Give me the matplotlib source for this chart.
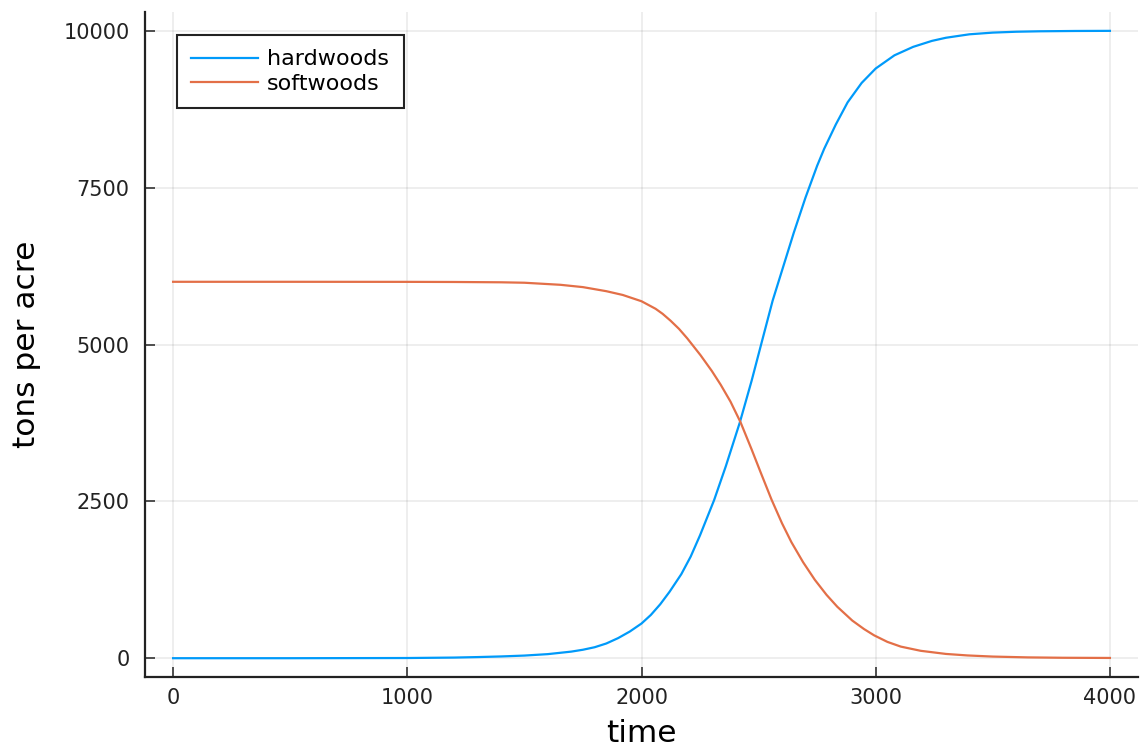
import matplotlib.pyplot as plt

# biomass over time (tons per acre)
hard_t = [0, 500, 1000, 1200, 1300, 1400, 1500, 1600, 1700, 1750, 1800, 1850, 1900,
          1950, 2000, 2040, 2080, 2120, 2170, 2210, 2250, 2310, 2360, 2420, 2470,
          2510, 2560, 2600, 2650, 2700, 2750, 2780, 2830, 2880, 2940, 3000, 3080,
          3160, 3240, 3300, 3400, 3500, 3600, 3700, 3850, 4000]
hardwoods = [0, 0, 3, 10, 18, 28, 42, 65, 105, 135, 175, 235, 320,
             425, 553, 690, 860, 1060, 1340, 1620, 1960, 2520, 3060, 3760, 4420,
             4990, 5700, 6180, 6780, 7340, 7850, 8120, 8510, 8860, 9170, 9400, 9610,
             9745, 9840, 9890, 9945, 9972, 9986, 9993, 9998, 10000]

soft_t = [0, 500, 1000, 1200, 1400, 1500, 1654, 1750, 1850, 1920, 2000, 2060, 2090,
          2124, 2160, 2195, 2252, 2300, 2338, 2380, 2423, 2470, 2510, 2555, 2600,
          2640, 2690, 2740, 2790, 2836, 2900, 2950, 2993, 3050, 3107, 3192, 3300,
          3392, 3500, 3650, 3800, 4000]
softwoods = [6000, 6000, 5999, 5997, 5992, 5985, 5952, 5915, 5850, 5790, 5690, 5570, 5490,
             5380, 5250, 5100, 4830, 4580, 4360, 4090, 3760, 3330, 2950, 2530, 2150,
             1850, 1530, 1250, 1010, 820, 600, 465, 365, 260, 185, 118, 68,
             44, 26, 13, 7, 4]

xticks = [0, 1000, 2000, 3000, 4000]
yticks = [0, 2500, 5000, 7500, 10000]

plt.rcParams['font.family'] = ['DejaVu Sans']

fig = plt.figure(figsize=(11.48, 7.52), dpi=100)
ax = fig.add_axes([0.1263, 0.0997, 0.865, 0.8843])

ax.plot(hard_t, hardwoods, color='#009AFA', linewidth=1.6, label='hardwoods')
ax.plot(soft_t, softwoods, color='#E36F47', linewidth=1.6, label='softwoods')

ax.set_xlim(-120, 4120)
ax.set_ylim(-300, 10300)
ax.set_xticks(xticks)
ax.set_yticks(yticks)
ax.set_xticklabels([str(v) for v in xticks])
ax.set_yticklabels([str(v) for v in yticks])

ax.grid(True, color='black', alpha=0.08, linewidth=1.2)
ax.set_axisbelow(True)
for side in ['top', 'right']:
    ax.spines[side].set_visible(False)
for side in ['left', 'bottom']:
    ax.spines[side].set_linewidth(1.6)
    ax.spines[side].set_color('#222222')
ax.tick_params(direction='in', length=7, width=1.2, color='#333333',
               labelsize=15, labelcolor='#222222')
ax.tick_params(axis='x', pad=8)
ax.tick_params(axis='y', pad=11)

ax.set_xlabel('time', fontsize=22.5, labelpad=8)
ax.set_ylabel('tons per acre', fontsize=22.5, labelpad=16)

leg = ax.legend(loc='upper left', bbox_to_anchor=(0.032, 0.966), borderaxespad=0,
                fontsize=16, fancybox=False, framealpha=1, edgecolor='#222222',
                handlelength=3.0, handletextpad=0.4, labelspacing=0.19,
                borderpad=0.66)
leg.get_frame().set_linewidth(1.5)

fig.savefig('out.png', dpi=100)
